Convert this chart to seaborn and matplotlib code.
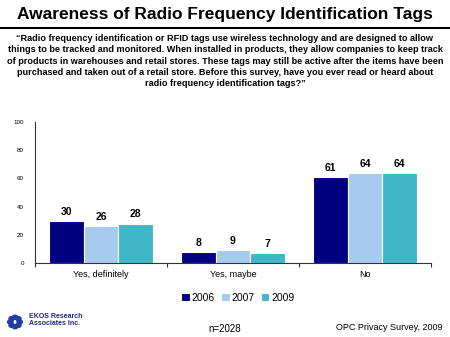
import matplotlib
matplotlib.use("Agg")
import matplotlib.pyplot as plt
import seaborn as sns
import pandas as pd
import numpy as np
from matplotlib.patches import Circle

categories = ["Yes, definitely", "Yes, maybe", "No"]
years = ["2006", "2007", "2009"]
v2006 = [30, 8, 61]
v2007 = [26, 9, 64]
v2009 = [28, 7, 64]
colors = ["#000080", "#a6cbee", "#40b6c8"]

rows = []
for cat, a, b, c in zip(categories, v2006, v2007, v2009):
    rows += [(cat, "2006", a), (cat, "2007", b), (cat, "2009", c)]
df = pd.DataFrame(rows, columns=["cat", "year", "val"])

sns.set_theme(style="white")
plt.rcParams['font.family'] = ['Liberation Sans', 'DejaVu Sans']
plt.rcParams['text.color'] = 'black'
plt.rcParams['xtick.color'] = 'black'
plt.rcParams['ytick.color'] = 'black'

fig = plt.figure(figsize=(4.5, 3.37), dpi=100)
ax = fig.add_axes([35/450, (337-263)/337, (431-35)/450, (263-122)/337])

sns.barplot(data=df, x="cat", y="val", hue="year", palette=colors, ax=ax,
            width=0.79, edgecolor="white", linewidth=0.8, saturation=1, legend=True)

for cont in ax.containers:
    ax.bar_label(cont, fmt="%d", padding=3, fontsize=7.5, fontweight="bold")

ax.set_ylim(0, 100)
ax.set_xlim(-0.5, 2.5)
ax.set_yticks([0, 20, 40, 60, 80, 100])
ax.tick_params(axis="y", labelsize=4.5, length=0, pad=8)
ax.tick_params(axis="x", labelsize=6.5, length=0, pad=5)
ax.set_xticks([-0.5, 0.5, 1.5, 2.5], minor=True)
ax.tick_params(axis="x", which="minor", length=3, width=0.8, color="#333333", direction="out", bottom=True)
ax.set_xlabel("")
ax.set_ylabel("")
for s in ["top", "right"]:
    ax.spines[s].set_visible(False)
for s in ["left", "bottom"]:
    ax.spines[s].set_color("#333333")
    ax.spines[s].set_linewidth(0.8)

leg = ax.legend(loc="center", bbox_to_anchor=(0.5 + 5/396, (263-298)/141), ncol=3,
                frameon=False, fontsize=7.5, handlelength=0.8, handleheight=0.8,
                handletextpad=0.2, columnspacing=0.6, borderpad=0)

fig.text(0.5, 1 - 15/337, "Awareness of Radio Frequency Identification Tags",
         ha="center", va="center", fontsize=12.5, fontweight="bold")
fig.add_artist(plt.Line2D([0, 1], [1 - 28/337, 1 - 28/337], color="black", linewidth=1.5))

sub = ("\u201cRadio frequency identification or RFID tags use wireless technology and are designed to allow\n"
       "things to be tracked and monitored. When installed in products, they allow companies to keep track\n"
       "of products in warehouses and retail stores. These tags may still be active after the items have been\n"
       "purchased and taken out of a retail store. Before this survey, have you ever read or heard about\n"
       "radio frequency identification tags?\u201d")
fig.text(0.5, 1 - 61/337, sub, ha="center", va="center", fontsize=6.6,
         fontweight="bold", linespacing=1.3)

fig.text(225/450, 1 - 329/337, "n=2028", ha="center", va="center", fontsize=7)
fig.text(442/450, 1 - 327/337, "OPC Privacy Survey, 2009", ha="right", va="center", fontsize=6.5)
fig.text(29/450, 1 - 320/337, "EKOS Research\nAssociates Inc.", ha="left", va="center",
         fontsize=5, fontweight="bold", color="#1f2a80", linespacing=1.1)

# logo
cx, cy = 15/450, 1 - 322/337
for ang in np.linspace(0, 2*np.pi, 8, endpoint=False):
    x = cx + 0.014 * np.cos(ang) * 337/450
    y = cy + 0.014 * np.sin(ang)
    fig.add_artist(Circle((x, y), 0.006, transform=fig.transFigure, color="#1f3fa0"))

fig.savefig("out.png", dpi=100)
